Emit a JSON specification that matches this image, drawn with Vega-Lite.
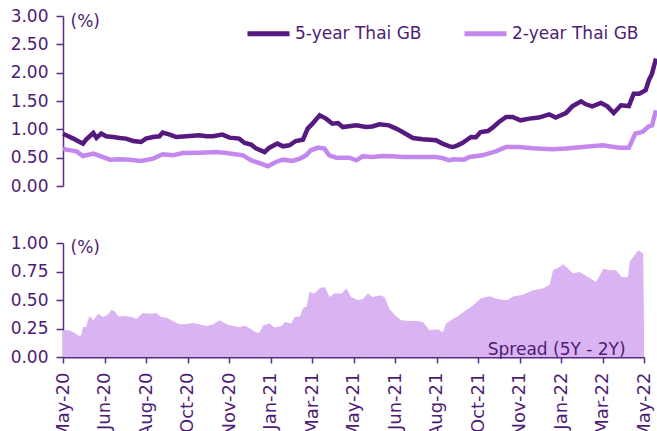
{
  "$schema": "https://vega.github.io/schema/vega-lite/v6.json",
  "padding": {"left": 10, "top": 7, "right": 0, "bottom": 0},
  "background": "white",
  "spacing": 40,
  "config": {
    "font": "DejaVu Sans",
    "view": {"stroke": null},
    "axis": {
      "labelFont": "DejaVu Sans", "labelFontSize": 17, "labelColor": "#4E1C74",
      "domainColor": "#5A2A85", "tickColor": "#5A2A85", "grid": false,
      "titleFont": "DejaVu Sans", "titleFontSize": 17, "titleFontWeight": "normal", "titleColor": "#4E1C74"
    }
  },
  "datasets": {
    "yields": [
      {"date": "2020-05-05", "series": "5-year Thai GB", "value": 0.92},
      {"date": "2020-05-09", "series": "5-year Thai GB", "value": 0.895},
      {"date": "2020-05-18", "series": "5-year Thai GB", "value": 0.836},
      {"date": "2020-05-26", "series": "5-year Thai GB", "value": 0.777},
      {"date": "2020-05-30", "series": "5-year Thai GB", "value": 0.748},
      {"date": "2020-06-03", "series": "5-year Thai GB", "value": 0.82},
      {"date": "2020-06-12", "series": "5-year Thai GB", "value": 0.935},
      {"date": "2020-06-16", "series": "5-year Thai GB", "value": 0.85},
      {"date": "2020-06-22", "series": "5-year Thai GB", "value": 0.925},
      {"date": "2020-06-28", "series": "5-year Thai GB", "value": 0.877},
      {"date": "2020-07-07", "series": "5-year Thai GB", "value": 0.865},
      {"date": "2020-07-15", "series": "5-year Thai GB", "value": 0.847},
      {"date": "2020-07-23", "series": "5-year Thai GB", "value": 0.836},
      {"date": "2020-08-01", "series": "5-year Thai GB", "value": 0.794},
      {"date": "2020-08-11", "series": "5-year Thai GB", "value": 0.777},
      {"date": "2020-08-17", "series": "5-year Thai GB", "value": 0.836},
      {"date": "2020-08-26", "series": "5-year Thai GB", "value": 0.865},
      {"date": "2020-09-03", "series": "5-year Thai GB", "value": 0.877},
      {"date": "2020-09-07", "series": "5-year Thai GB", "value": 0.942},
      {"date": "2020-09-16", "series": "5-year Thai GB", "value": 0.907},
      {"date": "2020-09-24", "series": "5-year Thai GB", "value": 0.865},
      {"date": "2020-10-07", "series": "5-year Thai GB", "value": 0.877},
      {"date": "2020-10-23", "series": "5-year Thai GB", "value": 0.895},
      {"date": "2020-11-01", "series": "5-year Thai GB", "value": 0.88},
      {"date": "2020-11-09", "series": "5-year Thai GB", "value": 0.877},
      {"date": "2020-11-21", "series": "5-year Thai GB", "value": 0.907},
      {"date": "2020-11-30", "series": "5-year Thai GB", "value": 0.853},
      {"date": "2020-12-12", "series": "5-year Thai GB", "value": 0.836},
      {"date": "2020-12-19", "series": "5-year Thai GB", "value": 0.759},
      {"date": "2020-12-27", "series": "5-year Thai GB", "value": 0.73},
      {"date": "2021-01-02", "series": "5-year Thai GB", "value": 0.665},
      {"date": "2021-01-13", "series": "5-year Thai GB", "value": 0.6},
      {"date": "2021-01-19", "series": "5-year Thai GB", "value": 0.677},
      {"date": "2021-01-29", "series": "5-year Thai GB", "value": 0.748},
      {"date": "2021-02-05", "series": "5-year Thai GB", "value": 0.7},
      {"date": "2021-02-13", "series": "5-year Thai GB", "value": 0.718},
      {"date": "2021-02-21", "series": "5-year Thai GB", "value": 0.794},
      {"date": "2021-03-02", "series": "5-year Thai GB", "value": 0.818},
      {"date": "2021-03-08", "series": "5-year Thai GB", "value": 1.013},
      {"date": "2021-03-14", "series": "5-year Thai GB", "value": 1.1},
      {"date": "2021-03-23", "series": "5-year Thai GB", "value": 1.247},
      {"date": "2021-03-31", "series": "5-year Thai GB", "value": 1.189},
      {"date": "2021-04-08", "series": "5-year Thai GB", "value": 1.1},
      {"date": "2021-04-15", "series": "5-year Thai GB", "value": 1.11},
      {"date": "2021-04-21", "series": "5-year Thai GB", "value": 1.04},
      {"date": "2021-05-08", "series": "5-year Thai GB", "value": 1.07},
      {"date": "2021-05-20", "series": "5-year Thai GB", "value": 1.04},
      {"date": "2021-05-28", "series": "5-year Thai GB", "value": 1.05},
      {"date": "2021-06-06", "series": "5-year Thai GB", "value": 1.089},
      {"date": "2021-06-18", "series": "5-year Thai GB", "value": 1.07},
      {"date": "2021-06-27", "series": "5-year Thai GB", "value": 1.013},
      {"date": "2021-07-05", "series": "5-year Thai GB", "value": 0.953},
      {"date": "2021-07-18", "series": "5-year Thai GB", "value": 0.847},
      {"date": "2021-07-30", "series": "5-year Thai GB", "value": 0.824},
      {"date": "2021-08-16", "series": "5-year Thai GB", "value": 0.806},
      {"date": "2021-08-24", "series": "5-year Thai GB", "value": 0.748},
      {"date": "2021-09-02", "series": "5-year Thai GB", "value": 0.7},
      {"date": "2021-09-06", "series": "5-year Thai GB", "value": 0.688},
      {"date": "2021-09-12", "series": "5-year Thai GB", "value": 0.718},
      {"date": "2021-09-18", "series": "5-year Thai GB", "value": 0.759},
      {"date": "2021-09-29", "series": "5-year Thai GB", "value": 0.865},
      {"date": "2021-10-05", "series": "5-year Thai GB", "value": 0.86},
      {"date": "2021-10-11", "series": "5-year Thai GB", "value": 0.953},
      {"date": "2021-10-20", "series": "5-year Thai GB", "value": 0.971},
      {"date": "2021-10-26", "series": "5-year Thai GB", "value": 1.03},
      {"date": "2021-11-03", "series": "5-year Thai GB", "value": 1.13},
      {"date": "2021-11-12", "series": "5-year Thai GB", "value": 1.218},
      {"date": "2021-11-20", "series": "5-year Thai GB", "value": 1.218},
      {"date": "2021-11-30", "series": "5-year Thai GB", "value": 1.159},
      {"date": "2021-12-11", "series": "5-year Thai GB", "value": 1.189},
      {"date": "2021-12-23", "series": "5-year Thai GB", "value": 1.207},
      {"date": "2022-01-05", "series": "5-year Thai GB", "value": 1.265},
      {"date": "2022-01-13", "series": "5-year Thai GB", "value": 1.207},
      {"date": "2022-01-26", "series": "5-year Thai GB", "value": 1.288},
      {"date": "2022-02-03", "series": "5-year Thai GB", "value": 1.406},
      {"date": "2022-02-14", "series": "5-year Thai GB", "value": 1.495},
      {"date": "2022-02-20", "series": "5-year Thai GB", "value": 1.442},
      {"date": "2022-02-28", "series": "5-year Thai GB", "value": 1.406},
      {"date": "2022-03-11", "series": "5-year Thai GB", "value": 1.465},
      {"date": "2022-03-19", "series": "5-year Thai GB", "value": 1.406},
      {"date": "2022-03-27", "series": "5-year Thai GB", "value": 1.288},
      {"date": "2022-04-05", "series": "5-year Thai GB", "value": 1.424},
      {"date": "2022-04-15", "series": "5-year Thai GB", "value": 1.41},
      {"date": "2022-04-21", "series": "5-year Thai GB", "value": 1.63},
      {"date": "2022-04-28", "series": "5-year Thai GB", "value": 1.63},
      {"date": "2022-05-06", "series": "5-year Thai GB", "value": 1.689},
      {"date": "2022-05-10", "series": "5-year Thai GB", "value": 1.865},
      {"date": "2022-05-14", "series": "5-year Thai GB", "value": 1.983},
      {"date": "2022-05-19", "series": "5-year Thai GB", "value": 2.25},
      {"date": "2020-05-05", "series": "2-year Thai GB", "value": 0.66},
      {"date": "2020-05-09", "series": "2-year Thai GB", "value": 0.642},
      {"date": "2020-05-22", "series": "2-year Thai GB", "value": 0.612},
      {"date": "2020-05-30", "series": "2-year Thai GB", "value": 0.53},
      {"date": "2020-06-12", "series": "2-year Thai GB", "value": 0.571},
      {"date": "2020-06-20", "series": "2-year Thai GB", "value": 0.53},
      {"date": "2020-07-03", "series": "2-year Thai GB", "value": 0.465},
      {"date": "2020-07-15", "series": "2-year Thai GB", "value": 0.47},
      {"date": "2020-07-28", "series": "2-year Thai GB", "value": 0.465},
      {"date": "2020-08-11", "series": "2-year Thai GB", "value": 0.441},
      {"date": "2020-08-26", "series": "2-year Thai GB", "value": 0.483},
      {"date": "2020-09-07", "series": "2-year Thai GB", "value": 0.559},
      {"date": "2020-09-20", "series": "2-year Thai GB", "value": 0.541},
      {"date": "2020-10-02", "series": "2-year Thai GB", "value": 0.582},
      {"date": "2020-10-23", "series": "2-year Thai GB", "value": 0.588},
      {"date": "2020-11-13", "series": "2-year Thai GB", "value": 0.6},
      {"date": "2020-11-26", "series": "2-year Thai GB", "value": 0.582},
      {"date": "2020-12-17", "series": "2-year Thai GB", "value": 0.541},
      {"date": "2020-12-25", "series": "2-year Thai GB", "value": 0.471},
      {"date": "2020-12-29", "series": "2-year Thai GB", "value": 0.441},
      {"date": "2021-01-06", "series": "2-year Thai GB", "value": 0.406},
      {"date": "2021-01-17", "series": "2-year Thai GB", "value": 0.347},
      {"date": "2021-01-27", "series": "2-year Thai GB", "value": 0.424},
      {"date": "2021-02-05", "series": "2-year Thai GB", "value": 0.465},
      {"date": "2021-02-17", "series": "2-year Thai GB", "value": 0.441},
      {"date": "2021-02-26", "series": "2-year Thai GB", "value": 0.483},
      {"date": "2021-03-06", "series": "2-year Thai GB", "value": 0.541},
      {"date": "2021-03-12", "series": "2-year Thai GB", "value": 0.63},
      {"date": "2021-03-21", "series": "2-year Thai GB", "value": 0.677},
      {"date": "2021-03-29", "series": "2-year Thai GB", "value": 0.66},
      {"date": "2021-04-04", "series": "2-year Thai GB", "value": 0.541},
      {"date": "2021-04-13", "series": "2-year Thai GB", "value": 0.5},
      {"date": "2021-04-29", "series": "2-year Thai GB", "value": 0.5},
      {"date": "2021-05-08", "series": "2-year Thai GB", "value": 0.453},
      {"date": "2021-05-16", "series": "2-year Thai GB", "value": 0.524},
      {"date": "2021-05-28", "series": "2-year Thai GB", "value": 0.512},
      {"date": "2021-06-10", "series": "2-year Thai GB", "value": 0.53},
      {"date": "2021-06-22", "series": "2-year Thai GB", "value": 0.524},
      {"date": "2021-07-05", "series": "2-year Thai GB", "value": 0.512},
      {"date": "2021-07-22", "series": "2-year Thai GB", "value": 0.512},
      {"date": "2021-08-16", "series": "2-year Thai GB", "value": 0.512},
      {"date": "2021-08-24", "series": "2-year Thai GB", "value": 0.494},
      {"date": "2021-09-02", "series": "2-year Thai GB", "value": 0.453},
      {"date": "2021-09-06", "series": "2-year Thai GB", "value": 0.471},
      {"date": "2021-09-20", "series": "2-year Thai GB", "value": 0.465},
      {"date": "2021-09-27", "series": "2-year Thai GB", "value": 0.512},
      {"date": "2021-10-13", "series": "2-year Thai GB", "value": 0.541},
      {"date": "2021-10-30", "series": "2-year Thai GB", "value": 0.612},
      {"date": "2021-11-12", "series": "2-year Thai GB", "value": 0.688},
      {"date": "2021-11-28", "series": "2-year Thai GB", "value": 0.688},
      {"date": "2021-12-15", "series": "2-year Thai GB", "value": 0.665},
      {"date": "2022-01-09", "series": "2-year Thai GB", "value": 0.648},
      {"date": "2022-01-26", "series": "2-year Thai GB", "value": 0.66},
      {"date": "2022-02-16", "series": "2-year Thai GB", "value": 0.688},
      {"date": "2022-03-13", "series": "2-year Thai GB", "value": 0.718},
      {"date": "2022-04-03", "series": "2-year Thai GB", "value": 0.677},
      {"date": "2022-04-15", "series": "2-year Thai GB", "value": 0.677},
      {"date": "2022-04-23", "series": "2-year Thai GB", "value": 0.924},
      {"date": "2022-05-02", "series": "2-year Thai GB", "value": 0.953},
      {"date": "2022-05-10", "series": "2-year Thai GB", "value": 1.053},
      {"date": "2022-05-14", "series": "2-year Thai GB", "value": 1.07},
      {"date": "2022-05-19", "series": "2-year Thai GB", "value": 1.336}
    ],
    "spread": [
      {"date": "2020-05-05", "spread": 0.234},
      {"date": "2020-05-13", "spread": 0.234},
      {"date": "2020-05-20", "spread": 0.211},
      {"date": "2020-05-25", "spread": 0.184},
      {"date": "2020-05-28", "spread": 0.19},
      {"date": "2020-05-30", "spread": 0.263},
      {"date": "2020-06-03", "spread": 0.263},
      {"date": "2020-06-07", "spread": 0.36},
      {"date": "2020-06-12", "spread": 0.322},
      {"date": "2020-06-18", "spread": 0.38},
      {"date": "2020-06-24", "spread": 0.351},
      {"date": "2020-06-30", "spread": 0.37},
      {"date": "2020-07-05", "spread": 0.415},
      {"date": "2020-07-09", "spread": 0.4},
      {"date": "2020-07-13", "spread": 0.357},
      {"date": "2020-07-21", "spread": 0.36},
      {"date": "2020-07-30", "spread": 0.351},
      {"date": "2020-08-05", "spread": 0.336},
      {"date": "2020-08-13", "spread": 0.386},
      {"date": "2020-08-22", "spread": 0.38},
      {"date": "2020-08-30", "spread": 0.386},
      {"date": "2020-09-05", "spread": 0.351},
      {"date": "2020-09-12", "spread": 0.345},
      {"date": "2020-09-20", "spread": 0.313},
      {"date": "2020-09-28", "spread": 0.287},
      {"date": "2020-10-07", "spread": 0.29},
      {"date": "2020-10-15", "spread": 0.298},
      {"date": "2020-10-23", "spread": 0.287},
      {"date": "2020-11-01", "spread": 0.272},
      {"date": "2020-11-09", "spread": 0.287},
      {"date": "2020-11-17", "spread": 0.322},
      {"date": "2020-11-26", "spread": 0.287},
      {"date": "2020-12-04", "spread": 0.272},
      {"date": "2020-12-12", "spread": 0.263},
      {"date": "2020-12-19", "spread": 0.275},
      {"date": "2020-12-27", "spread": 0.243},
      {"date": "2021-01-02", "spread": 0.214},
      {"date": "2021-01-06", "spread": 0.214},
      {"date": "2021-01-11", "spread": 0.278},
      {"date": "2021-01-19", "spread": 0.293},
      {"date": "2021-01-25", "spread": 0.258},
      {"date": "2021-02-03", "spread": 0.272},
      {"date": "2021-02-07", "spread": 0.307},
      {"date": "2021-02-15", "spread": 0.293},
      {"date": "2021-02-19", "spread": 0.351},
      {"date": "2021-02-26", "spread": 0.357},
      {"date": "2021-03-02", "spread": 0.433},
      {"date": "2021-03-06", "spread": 0.44},
      {"date": "2021-03-10", "spread": 0.57},
      {"date": "2021-03-16", "spread": 0.556},
      {"date": "2021-03-23", "spread": 0.605},
      {"date": "2021-03-29", "spread": 0.614},
      {"date": "2021-04-04", "spread": 0.526},
      {"date": "2021-04-10", "spread": 0.556},
      {"date": "2021-04-19", "spread": 0.556},
      {"date": "2021-04-25", "spread": 0.6},
      {"date": "2021-05-01", "spread": 0.526},
      {"date": "2021-05-10", "spread": 0.497},
      {"date": "2021-05-16", "spread": 0.51},
      {"date": "2021-05-22", "spread": 0.556},
      {"date": "2021-05-28", "spread": 0.526},
      {"date": "2021-06-06", "spread": 0.541},
      {"date": "2021-06-12", "spread": 0.526},
      {"date": "2021-06-18", "spread": 0.424},
      {"date": "2021-06-25", "spread": 0.366},
      {"date": "2021-07-03", "spread": 0.322},
      {"date": "2021-07-13", "spread": 0.316},
      {"date": "2021-07-22", "spread": 0.316},
      {"date": "2021-07-30", "spread": 0.307},
      {"date": "2021-08-07", "spread": 0.234},
      {"date": "2021-08-18", "spread": 0.243},
      {"date": "2021-08-24", "spread": 0.214},
      {"date": "2021-08-28", "spread": 0.293},
      {"date": "2021-09-06", "spread": 0.336},
      {"date": "2021-09-12", "spread": 0.357},
      {"date": "2021-09-20", "spread": 0.401},
      {"date": "2021-10-01", "spread": 0.454},
      {"date": "2021-10-11", "spread": 0.518},
      {"date": "2021-10-22", "spread": 0.532},
      {"date": "2021-10-30", "spread": 0.512},
      {"date": "2021-11-12", "spread": 0.497},
      {"date": "2021-11-20", "spread": 0.53},
      {"date": "2021-12-02", "spread": 0.547},
      {"date": "2021-12-15", "spread": 0.585},
      {"date": "2021-12-27", "spread": 0.6},
      {"date": "2022-01-05", "spread": 0.635},
      {"date": "2022-01-09", "spread": 0.761},
      {"date": "2022-01-17", "spread": 0.79},
      {"date": "2022-01-22", "spread": 0.813},
      {"date": "2022-01-28", "spread": 0.775},
      {"date": "2022-02-03", "spread": 0.732},
      {"date": "2022-02-11", "spread": 0.746},
      {"date": "2022-02-24", "spread": 0.693},
      {"date": "2022-03-04", "spread": 0.658},
      {"date": "2022-03-13", "spread": 0.775},
      {"date": "2022-03-21", "spread": 0.76},
      {"date": "2022-03-29", "spread": 0.76},
      {"date": "2022-04-05", "spread": 0.702},
      {"date": "2022-04-13", "spread": 0.7},
      {"date": "2022-04-15", "spread": 0.833},
      {"date": "2022-04-21", "spread": 0.892},
      {"date": "2022-04-26", "spread": 0.936},
      {"date": "2022-05-02", "spread": 0.907},
      {"date": "2022-05-03", "spread": 0.249}
    ]
  },
  "vconcat": [
    {
      "width": 593,
      "height": 170,
      "data": {"name": "yields"},
      "mark": {"type": "line", "strokeWidth": 4.5},
      "encoding": {
        "x": {
          "field": "date", "type": "temporal",
          "scale": {"type": "utc", "nice": false, "domain": [{"year": 2020, "month": 5, "date": 5, "utc": true}, {"year": 2022, "month": 5, "date": 19, "utc": true}]},
          "axis": null
        },
        "y": {
          "field": "value", "type": "quantitative",
          "scale": {"domain": [0, 3], "nice": false},
          "axis": {
            "values": [0, 0.5, 1, 1.5, 2, 2.5, 3], "format": ".2f", "labelOverlap": false,
            "title": "(%)", "titleAngle": 0, "titleX": 7, "titleY": 5, "titleAlign": "left", "titleBaseline": "middle",
            "tickSize": 7, "labelPadding": 8, "domainWidth": 1.5, "tickWidth": 1.5
          }
        },
        "color": {
          "field": "series", "type": "nominal",
          "scale": {"domain": ["5-year Thai GB", "2-year Thai GB"], "range": ["#55197F", "#C487EE"]},
          "legend": {
            "title": null, "orient": "none", "legendX": 182, "legendY": -6, "direction": "horizontal",
            "symbolType": "stroke", "symbolSize": 1764, "symbolStrokeWidth": 5,
            "labelFont": "DejaVu Sans", "labelFontSize": 17, "labelColor": "#4E1C74",
            "columnPadding": 32, "labelOffset": 3
          }
        }
      }
    },
    {
      "width": 581,
      "height": 114,
      "encoding": {
        "x": {
          "type": "temporal",
          "scale": {"type": "utc", "nice": false, "domain": [{"year": 2020, "month": 5, "date": 5, "utc": true}, {"year": 2022, "month": 5, "date": 3, "utc": true}]},
          "axis": {
            "values": [
              {"year": 2020, "month": 5, "date": 5, "utc": true},
              {"year": 2020, "month": 6, "date": 26, "utc": true},
              {"year": 2020, "month": 8, "date": 17, "utc": true},
              {"year": 2020, "month": 10, "date": 8, "utc": true},
              {"year": 2020, "month": 11, "date": 29, "utc": true},
              {"year": 2021, "month": 1, "date": 20, "utc": true},
              {"year": 2021, "month": 3, "date": 13, "utc": true},
              {"year": 2021, "month": 5, "date": 4, "utc": true},
              {"year": 2021, "month": 6, "date": 25, "utc": true},
              {"year": 2021, "month": 8, "date": 16, "utc": true},
              {"year": 2021, "month": 10, "date": 7, "utc": true},
              {"year": 2021, "month": 11, "date": 28, "utc": true},
              {"year": 2022, "month": 1, "date": 19, "utc": true},
              {"year": 2022, "month": 3, "date": 12, "utc": true},
              {"year": 2022, "month": 5, "date": 3, "utc": true}
            ],
            "format": "%b-%y", "labelAngle": -90, "labelFlush": false, "labelOverlap": false, "labelFontSize": 18,
            "tickSize": 6, "labelPadding": 9, "domainWidth": 2, "tickWidth": 1.5, "title": null
          }
        },
        "y": {
          "type": "quantitative",
          "scale": {"domain": [0, 1], "nice": false},
          "axis": {
            "values": [0, 0.25, 0.5, 0.75, 1], "format": ".2f", "labelOverlap": false, "tickCount": 5,
            "title": "(%)", "titleAngle": 0, "titleX": 7, "titleY": 4, "titleAlign": "left", "titleBaseline": "middle",
            "tickSize": 7, "labelPadding": 8, "domainWidth": 1.5, "tickWidth": 1.5
          }
        }
      },
      "layer": [
        {
          "data": {"name": "spread"},
          "mark": {"type": "area", "color": "#DAB4F2"},
          "encoding": {
            "x": {"field": "date", "type": "temporal"},
            "y": {"field": "spread", "type": "quantitative"}
          }
        },
        {
          "data": {"values": [{}]},
          "mark": {"type": "text", "align": "right", "baseline": "alphabetic", "font": "DejaVu Sans", "fontSize": 17, "color": "#4E1C74"},
          "encoding": {
            "x": {"datum": {"year": 2022, "month": 4, "date": 10, "utc": true}, "type": "temporal"},
            "y": {"datum": 0.015, "type": "quantitative"},
            "text": {"value": "Spread (5Y - 2Y)"}
          }
        }
      ]
    }
  ]
}
